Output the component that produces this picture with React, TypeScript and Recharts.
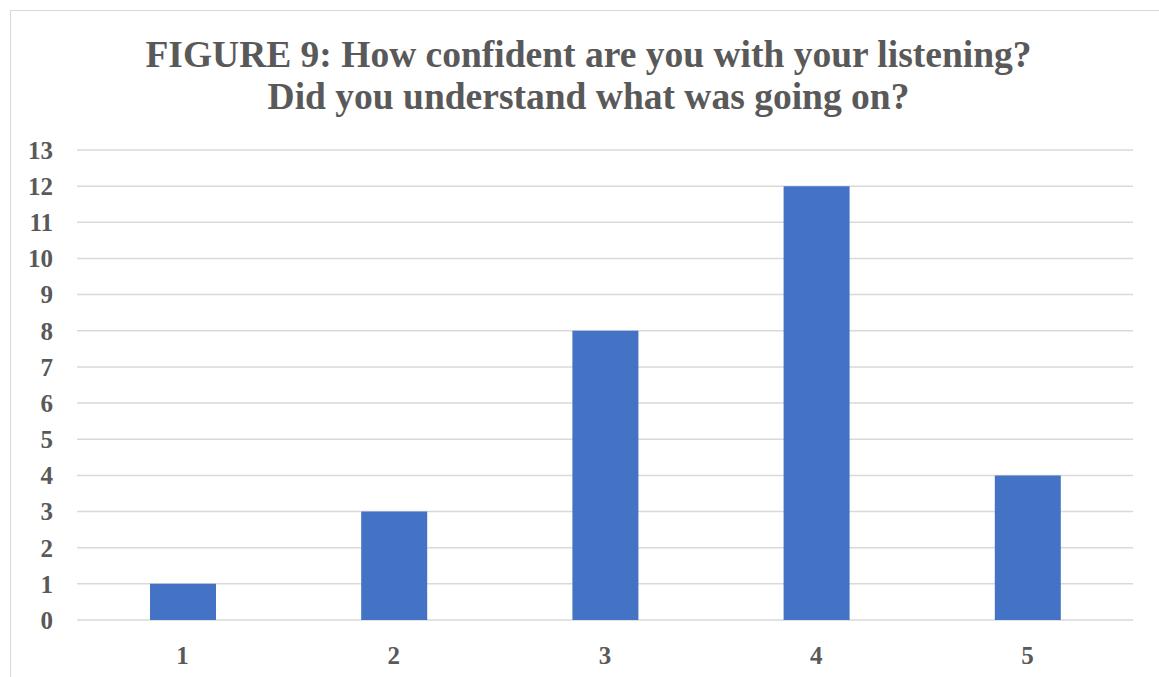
import React from 'react';
import { BarChart, Bar, XAxis, YAxis, CartesianGrid } from 'recharts';

const categories = ['1', '2', '3', '4', '5'];
const counts = [1, 3, 8, 12, 4];
const yTicks = [0, 1, 2, 3, 4, 5, 6, 7, 8, 9, 10, 11, 12, 13];

const titleLines = [
    'FIGURE 9: How confident are you with your listening?',
    'Did you understand what was going on?'
];

const data = categories.map((c, i) => ({ category: c, count: counts[i] }));

const font = '"Liberation Serif", "Times New Roman", serif';
const textGray = '#595959';

export default function App() {
    return (
        <div style={{ position: 'fixed', left: 0, top: 0, width: 1159, height: 677, overflow: 'hidden', background: '#fff' }}>
            {/* chart frame, only top and left edges are in view */}
            <div style={{ position: 'absolute', left: 10, top: 10, width: 1200, height: 720, border: '1.5px solid #d9d9d9' }} />
            <div
                style={{
                    position: 'absolute',
                    left: 0,
                    top: 34,
                    width: 1177,
                    textAlign: 'center',
                    fontFamily: font,
                    fontWeight: 'bold',
                    fontSize: 37.5,
                    lineHeight: '42px',
                    color: textGray
                }}
            >
                {titleLines.map((t) => (
                    <div key={t}>{t}</div>
                ))}
            </div>
            <div style={{ position: 'absolute', left: 0, top: 0 }}>
                <BarChart width={1159} height={677} data={data} margin={{ top: 150, right: 26, left: 0, bottom: 27 }}>
                    <CartesianGrid vertical={false} stroke="#d9d9d9" strokeWidth={1.5} />
                    <XAxis
                        dataKey="category"
                        height={30}
                        axisLine={false}
                        tickLine={false}
                        tickSize={0}
                        tickMargin={26}
                        tick={{ fill: textGray, fontSize: 25, fontWeight: 'bold', fontFamily: font }}
                    />
                    <YAxis
                        width={77}
                        domain={[0, 13]}
                        ticks={yTicks}
                        interval={0}
                        axisLine={false}
                        tickLine={false}
                        tickSize={0}
                        tickMargin={24}
                        tick={{ fill: textGray, fontSize: 25, fontWeight: 'bold', fontFamily: font }}
                    />
                    <Bar dataKey="count" fill="#4472C4" barSize={66} isAnimationActive={false} />
                </BarChart>
            </div>
        </div>
    );
}
